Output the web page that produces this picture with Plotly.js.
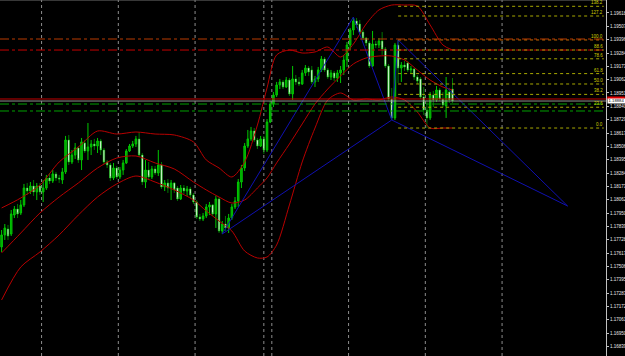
<!DOCTYPE html>
<html><head><meta charset="utf-8">
<script src="https://cdn.plot.ly/plotly-3.0.1.min.js"></script>
<style>html,body{margin:0;padding:0;background:#000;overflow:hidden}#chart{width:625px;height:356px}</style>
</head><body><div id="chart"></div>
<script>
// ---- candle data (H1 bars, oldest first) ----
const openP = [1.17668,1.17768,1.17818,1.17776,1.17934,1.17984,1.17951,1.18018,1.18159,1.18134,1.18176,1.18126,1.18176,1.18126,1.18159,1.18243,1.18218,1.18276,1.18243,1.18226,1.18293,1.18559,1.18376,1.18434,1.18493,1.18393,1.18534,1.18468,1.18501,1.18526,1.18509,1.18551,1.18476,1.18376,1.18351,1.18243,1.18326,1.18251,1.18309,1.18368,1.18468,1.18509,1.18526,1.18568,1.18434,1.18209,1.18309,1.18251,1.18318,1.18284,1.18351,1.18168,1.18201,1.18159,1.18201,1.18159,1.18068,1.18159,1.18134,1.18151,1.18101,1.18043,1.17918,1.17901,1.17926,1.18001,1.18018,1.17943,1.18068,1.17801,1.17859,1.17826,1.17909,1.18001,1.18051,1.18209,1.18326,1.18509,1.18568,1.18634,1.18559,1.18509,1.18568,1.18476,1.18709,1.18859,1.18934,1.19018,1.19043,1.19001,1.19059,1.18943,1.19068,1.19043,1.19026,1.19118,1.19159,1.19143,1.19043,1.19068,1.19143,1.19234,1.19143,1.19084,1.19118,1.19076,1.19118,1.19143,1.19226,1.19351,1.19476,1.19551,1.19526,1.19459,1.19409,1.19368,1.19176,1.19359,1.19351,1.19384,1.19318,1.19176,1.18901,1.18743,1.19351,1.19159,1.19184,1.19201,1.19143,1.19151,1.19084,1.19068,1.18918,1.18809,1.18743,1.18934,1.18893,1.18976,1.18901,1.18843,1.18959,1.18984];
const highP = [1.17809,1.17859,1.17851,1.17976,1.18009,1.18026,1.18059,1.18193,1.18201,1.18209,1.18226,1.18201,1.18201,1.18226,1.18268,1.18284,1.18309,1.18293,1.18268,1.18326,1.18593,1.18601,1.18476,1.18534,1.18509,1.18576,1.18559,1.18701,1.18559,1.18568,1.18576,1.18568,1.18493,1.18393,1.18368,1.18368,1.18343,1.18334,1.18393,1.18484,1.18526,1.18551,1.18593,1.18626,1.18451,1.18393,1.18376,1.18343,1.18343,1.18476,1.18376,1.18226,1.18234,1.18226,1.18209,1.18176,1.18184,1.18184,1.18176,1.18168,1.18118,1.18059,1.17943,1.17951,1.18026,1.18043,1.18026,1.18093,1.18084,1.17884,1.17926,1.17943,1.18026,1.18084,1.18234,1.18351,1.18534,1.18643,1.18668,1.18659,1.18576,1.18593,1.18593,1.18734,1.18884,1.18959,1.19043,1.19068,1.19059,1.19084,1.19076,1.19176,1.19101,1.19084,1.19143,1.19184,1.19176,1.19176,1.19093,1.19168,1.19259,1.19251,1.19159,1.19143,1.19134,1.19143,1.19176,1.19268,1.19376,1.19493,1.19584,1.19576,1.19559,1.19476,1.19418,1.19384,1.19468,1.19384,1.19409,1.19459,1.19334,1.19193,1.18993,1.19368,1.19393,1.19209,1.19218,1.19218,1.19176,1.19159,1.19101,1.19084,1.19001,1.18893,1.18959,1.18968,1.19009,1.18993,1.18959,1.19084,1.18993,1.19076];
const lowP = [1.17626,1.17726,1.17726,1.17759,1.17909,1.17909,1.17934,1.18001,1.18101,1.18109,1.18093,1.18059,1.18101,1.18043,1.18143,1.18193,1.18201,1.18218,1.18201,1.18193,1.18276,1.18351,1.18359,1.18401,1.18368,1.18309,1.18451,1.18393,1.18434,1.18476,1.18451,1.18434,1.18359,1.18326,1.18218,1.18226,1.18234,1.18234,1.18268,1.18359,1.18459,1.18493,1.18501,1.18418,1.18184,1.18159,1.18226,1.18234,1.18268,1.18259,1.18151,1.18134,1.18118,1.18059,1.18118,1.18051,1.18059,1.18109,1.18093,1.18076,1.18026,1.17901,1.17884,1.17884,1.17909,1.17934,1.17926,1.17826,1.17784,1.17776,1.17801,1.17784,1.17893,1.17984,1.18001,1.18159,1.18301,1.18493,1.18551,1.18543,1.18484,1.18501,1.18443,1.18459,1.18701,1.18834,1.18918,1.18984,1.18984,1.18993,1.18926,1.18893,1.19018,1.19009,1.19018,1.19093,1.19093,1.19026,1.19001,1.19043,1.19126,1.19126,1.19068,1.19059,1.19051,1.19043,1.19034,1.19101,1.19168,1.19309,1.19434,1.19493,1.19443,1.19393,1.19343,1.19159,1.19168,1.19326,1.19326,1.19268,1.19159,1.18884,1.18726,1.18726,1.19034,1.19043,1.19134,1.19126,1.19109,1.19059,1.19026,1.18901,1.18768,1.18659,1.18726,1.18834,1.18876,1.18884,1.18834,1.18743,1.18868,1.18868];
const closeP = [1.17768,1.17826,1.17759,1.17943,1.17984,1.17943,1.18018,1.18159,1.18134,1.18176,1.18126,1.18176,1.18126,1.18159,1.18243,1.18218,1.18276,1.18243,1.18234,1.18293,1.18559,1.18376,1.18434,1.18493,1.18393,1.18543,1.18468,1.18501,1.18526,1.18509,1.18551,1.18476,1.18376,1.18351,1.18243,1.18326,1.18251,1.18309,1.18368,1.18468,1.18509,1.18526,1.18568,1.18434,1.18209,1.18309,1.18251,1.18318,1.18284,1.18351,1.18168,1.18201,1.18159,1.18201,1.18143,1.18068,1.18159,1.18134,1.18151,1.18101,1.18043,1.17918,1.17901,1.17926,1.18001,1.18018,1.17943,1.18068,1.17801,1.17859,1.17826,1.17909,1.18001,1.18051,1.18209,1.18326,1.18509,1.18568,1.18634,1.18559,1.18509,1.18568,1.18476,1.18709,1.18859,1.18934,1.19018,1.19043,1.19001,1.19059,1.18943,1.19068,1.19043,1.19026,1.19118,1.19159,1.19126,1.19043,1.19068,1.19143,1.19234,1.19143,1.19084,1.19118,1.19076,1.19118,1.19143,1.19226,1.19351,1.19476,1.19551,1.19518,1.19459,1.19409,1.19368,1.19176,1.19359,1.19351,1.19384,1.19318,1.19176,1.18901,1.18743,1.19351,1.19159,1.19184,1.19168,1.19143,1.19151,1.19084,1.19051,1.18918,1.18809,1.18743,1.18934,1.18893,1.18976,1.18901,1.18851,1.18976,1.18893,1.18884];

// ---- Bollinger bands (sampled at bar numbers) ----
const bandBars   = [0,6,12,18,24,30,36,42,48,54,60,64,68,72,76,80,83,86,90,94,98,102,106,110,114,118,122,126,130,134,138,141];
const bandUpper  = [1.17993,1.18076,1.18184,1.18376,1.18501,1.18634,1.18609,1.18626,1.18609,1.18601,1.18543,1.18393,1.18326,1.18251,1.18376,1.18684,1.18993,1.19268,1.19309,1.19284,1.19293,1.19334,1.19251,1.19359,1.19526,1.19643,1.19684,1.19684,1.19676,1.19518,1.19351,1.19309];
const bandMiddle = [1.17618,1.17784,1.17951,1.18084,1.18201,1.18326,1.18409,1.18426,1.18368,1.18318,1.18209,1.18143,1.18084,1.18034,1.18059,1.18159,1.18243,1.18368,1.18526,1.18693,1.18859,1.18984,1.19093,1.19193,1.19243,1.19259,1.19259,1.19226,1.19143,1.19059,1.19001,1.18976];
const bandLower  = [1.17226,1.17501,1.17626,1.17768,1.17934,1.18084,1.18193,1.18259,1.18209,1.18143,1.18059,1.17968,1.17884,1.17801,1.17634,1.17576,1.17584,1.17684,1.18018,1.18376,1.18659,1.18893,1.18951,1.18893,1.18901,1.18893,1.18918,1.18893,1.18793,1.18659,1.18659,1.18659];

// ---- harmonic pattern points X, A, B, C, D ----
const patternBars   = [69, 110, 122, 124, 177];
const patternPrices = [1.17776, 1.19584, 1.18726, 1.19393, 1.18009];
const patternLegs   = [[0,1],[1,2],[0,2],[2,3],[3,4],[2,4]];

// ---- Fibonacci retracement ----
const fibStartBar = 124, fibEndBar = 188.3;
const fibHigh = 1.19393, fibLow = 1.18659;
const fibLevels = [0, 23.6, 38.2, 50, 61.8, 78.6, 88.6, 100, 127.2, 138.2];
const fibLabels = ["0.0","23.6","38.2","50.0","61.8","78.6","88.6","100.0","127.2","138.2"];

// ---- horizontal lines ----
const askPrice = 1.18901, bidPrice = 1.18884;
const redLevels = [1.19401, 1.19309];
const greenLevels = [1.18859, 1.18801];

// ---- vertical separators (bar numbers) ----
const separatorBars = [12.5, 36.5, 60.5, 82, 84.5, 108.5, 132.5, 156.5];

// ---- price scale ----
const priceTicks = [1.19618,1.19507,1.19396,1.19284,1.19173,1.19062,1.18951,1.18840,1.18729,1.18617,1.18506,1.18395,1.18284,1.18173,1.18062,1.17950,1.17839,1.17728,1.17617,1.17506,1.17395,1.17283,1.17172,1.17061,1.16950,1.16839];
const priceRange = [1.16759, 1.19726];
const barRange = [-0.5, 189];

const bars = closeP.map((_, i) => i);
const traces = [];
[bandUpper, bandMiddle, bandLower].forEach(b => traces.push({
  type: 'scatter', mode: 'lines', x: bandBars, y: b,
  line: {color: '#b80000', width: 1, shape: 'spline', smoothing: 0.8}, hoverinfo: 'skip'
}));
const px = [], py = [];
patternLegs.forEach(([a, b]) => {
  px.push(patternBars[a], patternBars[b], null);
  py.push(patternPrices[a], patternPrices[b], null);
});
traces.push({type: 'scatter', mode: 'lines', x: px, y: py, line: {color: '#1010b0', width: 1}, hoverinfo: 'skip'});
traces.push({
  type: 'candlestick', x: bars, open: openP, high: highP, low: lowP, close: closeP,
  increasing: {line: {color: '#00c800', width: 1}, fillcolor: '#00a000'},
  decreasing: {line: {color: '#00c800', width: 0.6}, fillcolor: '#ffffff'},
  whiskerwidth: 0, hoverinfo: 'skip'
});

const yToPaper = p => (p - priceRange[0]) / (priceRange[1] - priceRange[0]);
const shapes = [];
separatorBars.forEach(b => shapes.push({type: 'line', xref: 'x', yref: 'paper', x0: b, x1: b, y0: 0, y1: 1,
  line: {color: '#8c8c8c', width: 1, dash: 'dot'}, layer: 'below'}));
shapes.push({type: 'line', xref: 'paper', yref: 'paper', x0: 0, x1: 1, y0: 1, y1: 1, line: {color: '#707070', width: 1}});
redLevels.forEach((p, k) => shapes.push({type: 'line', xref: 'paper', yref: 'y', x0: 0, x1: 1, y0: p, y1: p,
  line: {color: k === 0 ? '#b83a00' : '#c80000', width: 1, dash: 'dashdot'}}));
greenLevels.forEach(p => shapes.push({type: 'line', xref: 'paper', yref: 'y', x0: 0, x1: 1, y0: p, y1: p,
  line: {color: '#00a000', width: 1, dash: 'dashdot'}}));
shapes.push({type: 'line', xref: 'paper', yref: 'y', x0: 0, x1: 1, y0: askPrice, y1: askPrice, line: {color: '#c00000', width: 1}});
shapes.push({type: 'line', xref: 'paper', yref: 'y', x0: 0, x1: 1, y0: bidPrice, y1: bidPrice, line: {color: '#909090', width: 1}});
// ask price tag (red block on the scale)
shapes.push({type: 'rect', xref: 'paper', yref: 'paper', x0: 1.002, x1: 1.031,
  y0: yToPaper(askPrice) - 0.001, y1: yToPaper(askPrice) + 0.007, fillcolor: '#e00000', line: {width: 0}});

const annotations = [];
fibLevels.forEach((lv, k) => {
  const p = fibLow + (fibHigh - fibLow) * lv / 100;
  shapes.push({type: 'line', xref: 'x', yref: 'y', x0: fibStartBar, x1: fibEndBar, y0: p, y1: p,
    line: {color: lv === 100 ? '#d06a00' : '#a8a800', width: 1, dash: 'dot'}});
  annotations.push({xref: 'x', yref: 'y', x: fibEndBar, y: p, xanchor: 'right', yanchor: 'bottom',
    text: fibLabels[k], showarrow: false, font: {family: 'Liberation Sans, Arial', size: 4.5, color: '#d0d000'}, borderpad: 0});
});
annotations.push({xref: 'paper', yref: 'y', x: 1, y: bidPrice, xanchor: 'left', yanchor: 'middle', xshift: 1, yshift: 0,
  width: 17, height: 3.5, text: bidPrice.toFixed(5), showarrow: false, bgcolor: '#ffffff',
  font: {family: 'Liberation Sans, Arial', size: 4.2, color: '#000000'}, borderpad: 0});

const layout = {
  width: 625, height: 356,
  margin: {l: 0, r: 19, t: 0, b: 0, pad: 0},
  paper_bgcolor: '#000000', plot_bgcolor: '#000000',
  showlegend: false, dragmode: false,
  xaxis: {range: barRange, visible: false, fixedrange: true, rangeslider: {visible: false}},
  yaxis: {
    range: priceRange, side: 'right', fixedrange: true,
    tickvals: priceTicks, ticktext: priceTicks.map(v => v.toFixed(5)),
    tickfont: {family: 'Liberation Sans, Arial', size: 4.5, color: '#e8e8e8'},
    ticks: 'outside', ticklen: 2, tickcolor: '#c0c0c0', tickwidth: 1,
    showline: true, linecolor: '#c0c0c0', linewidth: 1,
    showgrid: false, zeroline: false, automargin: false
  },
  shapes: shapes, annotations: annotations
};
Plotly.newPlot('chart', traces, layout, {staticPlot: true, displayModeBar: false});
</script></body></html>
